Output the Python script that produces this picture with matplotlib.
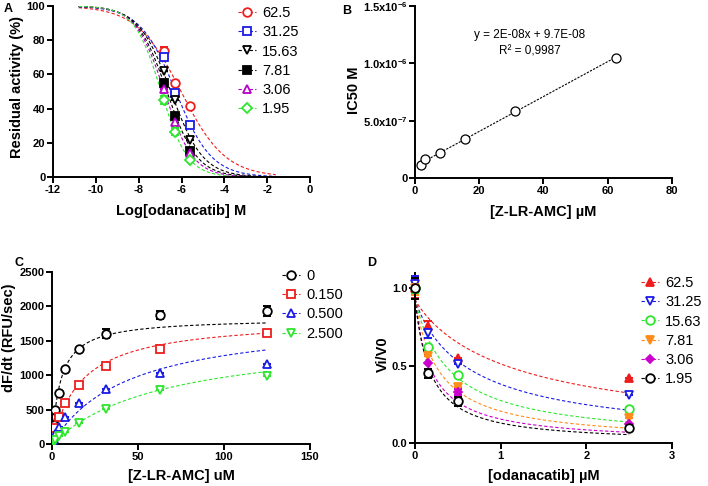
#!/usr/bin/env python3
"""Odanacatib inhibition panels A-D (residual activity, IC50 vs substrate, MM kinetics, Vi/V0)."""

import matplotlib

matplotlib.use("Agg")
import matplotlib.pyplot as plt
import numpy as np

plt.rcParams["font.family"] = ["Liberation Sans", "DejaVu Sans"]
plt.rcParams["mathtext.fontset"] = "custom"
plt.rcParams["mathtext.bf"] = "Liberation Sans:bold"
plt.rcParams["mathtext.rm"] = "Liberation Sans"
plt.rcParams["axes.unicode_minus"] = False

# ---------------------------------------------------------------------------
# Panel A: residual activity vs log[odanacatib]
# ---------------------------------------------------------------------------
A_LABELS = ["62.5", "31.25", "15.63", "7.81", "3.06", "1.95"]
A_LOGX = [-6.82, -6.30, -5.60]
A_VALUES = [
    [73.5, 54.7, 41.4],
    [70.3, 49.4, 30.7],
    [61.9, 44.9, 21.9],
    [55.1, 35.7, 15.0],
    [51.2, 32.3, 14.0],
    [44.9, 26.4, 9.8],
]
A_ERR = [
    [2.5, 0.0, 0.0],
    [0.0, 0.0, 0.0],
    [0.0, 0.0, 0.0],
    [0.0, 0.0, 2.0],
    [0.0, 2.0, 0.0],
    [2.5, 2.0, 0.0],
]
# fitted sigmoid parameters (logIC50, Hill slope)
A_LOGIC50 = [-6.02, -6.27, -6.50, -6.68, -6.80, -6.95]
A_HILL = [0.42, 0.52, 0.58, 0.62, 0.65, 0.70]
A_FIT_RANGE = (-10.8, -1.6)

# ---------------------------------------------------------------------------
# Panel B: IC50 vs substrate
# ---------------------------------------------------------------------------
B_SUBSTRATE = [1.95, 3.06, 7.81, 15.63, 31.25, 62.5]
B_IC50 = [1.16e-7, 1.68e-7, 2.15e-7, 3.37e-7, 5.86e-7, 1.05e-6]
B_EQUATION = "y = 2E-08x + 9.7E-08"
B_R2 = "R² = 0,9987"

# ---------------------------------------------------------------------------
# Panel C: Michaelis-Menten at several inhibitor concentrations
# ---------------------------------------------------------------------------
C_LABELS = ["0", "0.150", "0.500", "2.500"]
C_SUBSTRATE = [0, 0.49, 0.98, 1.95, 3.9, 7.81, 15.63, 31.25, 62.5, 125]
C_RATES = [
    [0, 131, 277, 495, 740, 1085, 1385, 1605, 1879, 1937],
    [0, 80, 155, 228, 388, 602, 859, 1136, 1379, 1610],
    [0, 35, 70, 140, 252, 388, 602, 796, 1029, 1165],
    [0, 15, 30, 60, 117, 180, 311, 510, 786, 990],
]
C_ERR = [
    [0, 0, 0, 0, 0, 0, 0, 70, 60, 75],
    [0, 0, 0, 0, 0, 0, 0, 0, 0, 40],
    [0, 0, 0, 0, 0, 0, 0, 0, 0, 0],
    [0, 0, 0, 0, 0, 0, 0, 0, 0, 0],
]
C_VMAX = [1830, 1830, 1850, 1600]
C_KM = [5.0, 17.0, 44.0, 65.0]

# ---------------------------------------------------------------------------
# Panel D: Vi/V0 vs odanacatib
# ---------------------------------------------------------------------------
D_LABELS = ["62.5", "31.25", "15.63", "7.81", "3.06", "1.95"]
D_CONC = [0, 0.15, 0.5, 2.5]
D_VALUES = [
    [1.00, 0.76, 0.55, 0.42],
    [1.03, 0.71, 0.51, 0.31],
    [1.00, 0.62, 0.44, 0.22],
    [1.00, 0.56, 0.36, 0.16],
    [1.00, 0.52, 0.33, 0.12],
    [1.00, 0.45, 0.27, 0.10],
]
D_ERR = [
    [0.06, 0.03, 0.0, 0.0],
    [0.05, 0.03, 0.0, 0.0],
    [0.03, 0.0, 0.0, 0.0],
    [0.04, 0.0, 0.0, 0.0],
    [0.0, 0.0, 0.02, 0.0],
    [0.07, 0.03, 0.03, 0.0],
]
D_TOP = 0.93
D_IC50 = [1.25, 0.674, 0.412, 0.281, 0.196, 0.176]
D_HILL = [0.91, 0.93, 0.98, 0.99, 0.99, 1.05]

RED = "#ee1c1c"
BLUE = "#1a1ae6"
GREEN = "#2ee62e"
PURPLE = "#b400c8"
ORANGE = "#ff8c1a"

A_STYLE = [
    dict(color=RED, marker="o", mfc="white"),
    dict(color=BLUE, marker="s", mfc="white"),
    dict(color="black", marker="v", mfc="white"),
    dict(color="black", marker="s", mfc="black"),
    dict(color=PURPLE, marker="^", mfc="white"),
    dict(color=GREEN, marker="D", mfc="white", ms=5.5),
]
C_STYLE = [
    dict(color="black", marker="o", mfc="white"),
    dict(color=RED, marker="s", mfc="white"),
    dict(color=BLUE, marker="^", mfc="white"),
    dict(color=GREEN, marker="v", mfc="white"),
]
D_STYLE = [
    dict(color=RED, marker="^", mfc=RED),
    dict(color=BLUE, marker="v", mfc="white"),
    dict(color=GREEN, marker="o", mfc="white"),
    dict(color=ORANGE, marker="v", mfc=ORANGE),
    dict(color="#cc00cc", marker="D", mfc="#cc00cc", ms=4.5),
    dict(color="black", marker="o", mfc="white"),
]

TICK_FS = 8
LABEL_FS = 10.5
LEGEND_FS = 10.5
DASH = (0, (3, 2))
W, H = 708, 486


def style_axes(ax, ylab_xy, xlab_y):
    for side in ("top", "right"):
        ax.spines[side].set_visible(False)
    for side in ("left", "bottom"):
        ax.spines[side].set_linewidth(1.4)
    ax.tick_params(direction="out", length=4, width=1.4, labelsize=TICK_FS, pad=1.5)
    for lab in ax.get_xticklabels() + ax.get_yticklabels():
        lab.set_fontweight("bold")
    ax.yaxis.set_label_coords(*ylab_xy)
    ax.yaxis.label.set_va("center")
    ax.xaxis.set_label_coords(0.5, xlab_y)
    ax.xaxis.label.set_va("center")


def px_axes(fig, left, top, right, bottom):
    return fig.add_axes([left / W, 1 - bottom / H, (right - left) / W, (bottom - top) / H])


def series(ax, x, y, err, style, ms=6.2, mew=1.3):
    ms = style.get("ms", ms)
    ax.errorbar(
        x, y, yerr=err, fmt="none", ecolor=style["color"], elinewidth=1.4,
        capsize=3, capthick=1.4, zorder=3,
    )
    ax.plot(
        x, y, linestyle="none", marker=style["marker"], ms=ms, mew=mew,
        mec=style["color"], mfc=style["mfc"], zorder=4,
    )


def legend(ax, styles, labels, anchor, ms=6.2):
    handles = [
        plt.Line2D([], [], color=s["color"], lw=0.8, ls=DASH, marker=s["marker"],
                   ms=s.get("ms", ms), mew=1.3, mec=s["color"], mfc=s["mfc"])
        for s in styles
    ]
    ax.legend(
        handles, labels, loc="upper left", bbox_to_anchor=anchor,
        bbox_transform=ax.figure.transFigure, frameon=False, fontsize=LEGEND_FS,
        handlelength=1.2, handletextpad=0.45, labelspacing=0.36, borderpad=0,
        borderaxespad=0,
    )


fig = plt.figure(figsize=(W / 100, H / 100), dpi=100)

# ----- A -----
ax = px_axes(fig, 53, 6, 310, 177)
xs = np.linspace(*A_FIT_RANGE, 300)
for vals, err, c, h, st in zip(A_VALUES, A_ERR, A_LOGIC50, A_HILL, A_STYLE):
    fit = 100 / (1 + 10 ** ((xs - c) * h))
    ax.plot(xs, fit, color=st["color"], lw=0.8, ls=DASH, zorder=2)
    series(ax, A_LOGX, vals, err, st)
ax.set_xlim(-12, 0)
ax.set_ylim(0, 100)
ax.set_xticks(range(-12, 1, 2))
ax.set_yticks(range(0, 101, 20))
ax.set_xlabel("Log[odanacatib] M", fontsize=LABEL_FS, fontweight="bold")
ax.set_ylabel("Residual activity (%)", fontsize=LABEL_FS, fontweight="bold")
style_axes(ax, ((17 - 53) / 257, 0.525), -0.197)
legend(ax, A_STYLE, A_LABELS, (238 / W, 1 - 6 / H))
fig.text(4 / W, 1 - 9 / H, "A", fontsize=9, fontweight="bold", va="center", ha="left")

# ----- B -----
ax = px_axes(fig, 415, 6, 672, 178)
slope, icept = np.polyfit(B_SUBSTRATE, B_IC50, 1)
bx = np.array([min(B_SUBSTRATE), max(B_SUBSTRATE)])
ax.plot(bx, slope * bx + icept, color="black", lw=0.8, ls=(0, (2, 1.2)), zorder=2)
ax.plot(B_SUBSTRATE, B_IC50, linestyle="none", marker="o", ms=6.5, mew=0.9,
        mec="black", mfc="white", zorder=4)
ax.set_xlim(0, 80)
ax.set_ylim(0, 1.5e-6)
ax.set_xticks(range(0, 81, 20))
ax.set_yticks([0, 5e-7, 1e-6, 1.5e-6])
ax.set_yticklabels(["0", r"$\mathbf{5.0x10^{-7}}$", r"$\mathbf{1.0x10^{-6}}$",
                    r"$\mathbf{1.5x10^{-6}}$"])
ax.set_xlabel("[Z-LR-AMC] µM", fontsize=LABEL_FS, fontweight="bold")
ax.set_ylabel("IC50 M", fontsize=LABEL_FS, fontweight="bold")
style_axes(ax, ((354 - 415) / 257, 0.51), -0.196)
ax.text(0.446, 0.83, B_EQUATION, transform=ax.transAxes, ha="center", va="center", fontsize=8.5)
ax.text(0.446, 0.735, B_R2, transform=ax.transAxes, ha="center", va="center", fontsize=8.5)
fig.text(342 / W, 1 - 11 / H, "B", fontsize=9, fontweight="bold", va="center", ha="left")

# ----- C -----
ax = px_axes(fig, 52, 272, 310, 444)
sx = np.linspace(0, max(C_SUBSTRATE), 300)
for vals, err, vm, km, st in zip(C_RATES, C_ERR, C_VMAX, C_KM, C_STYLE):
    ax.plot(sx, vm * sx / (km + sx), color=st["color"], lw=0.8, ls=DASH, zorder=2)
    series(ax, C_SUBSTRATE, vals, err, st)
ax.set_xlim(0, 150)
ax.set_ylim(0, 2500)
ax.set_xticks([0, 50, 100, 150])
ax.set_yticks(range(0, 2501, 500))
ax.set_xlabel("[Z-LR-AMC] uM", fontsize=LABEL_FS, fontweight="bold")
ax.set_ylabel("dF/dt (RFU/sec)", fontsize=LABEL_FS, fontweight="bold")
style_axes(ax, ((9 - 52) / 258, 0.62), -0.188)
legend(ax, C_STYLE, C_LABELS, (282 / W, 1 - 269 / H))
fig.text(14 / W, 1 - 263 / H, "C", fontsize=9, fontweight="bold", va="center", ha="left")

# ----- D -----
ax = px_axes(fig, 415, 273, 672, 443)
dx = np.linspace(0, max(D_CONC), 300)
for vals, err, c, h, st in zip(D_VALUES, D_ERR, D_IC50, D_HILL, D_STYLE):
    ax.plot(dx, D_TOP / (1 + (dx / c) ** h), color=st["color"], lw=0.8, ls=DASH, zorder=2)
    series(ax, D_CONC, vals, err, st)
ax.set_xlim(0, 3)
ax.set_ylim(0, 1.1)
ax.set_xticks([0, 1, 2, 3])
ax.set_yticks([0, 0.5, 1.0])
ax.set_yticklabels(["0.0", "0.5", "1.0"])
ax.set_xlabel("[odanacatib] µM", fontsize=LABEL_FS, fontweight="bold")
ax.set_ylabel("Vi/V0", fontsize=LABEL_FS, fontweight="bold")
style_axes(ax, ((383 - 415) / 257, 0.52), -0.196)
for line in ax.lines + ax.collections:
    line.set_clip_on(False)
legend(ax, D_STYLE, D_LABELS, (641 / W, 1 - 276 / H))
fig.text(367 / W, 1 - 263 / H, "D", fontsize=9, fontweight="bold", va="center", ha="left")

fig.savefig("out.png", dpi=100)
